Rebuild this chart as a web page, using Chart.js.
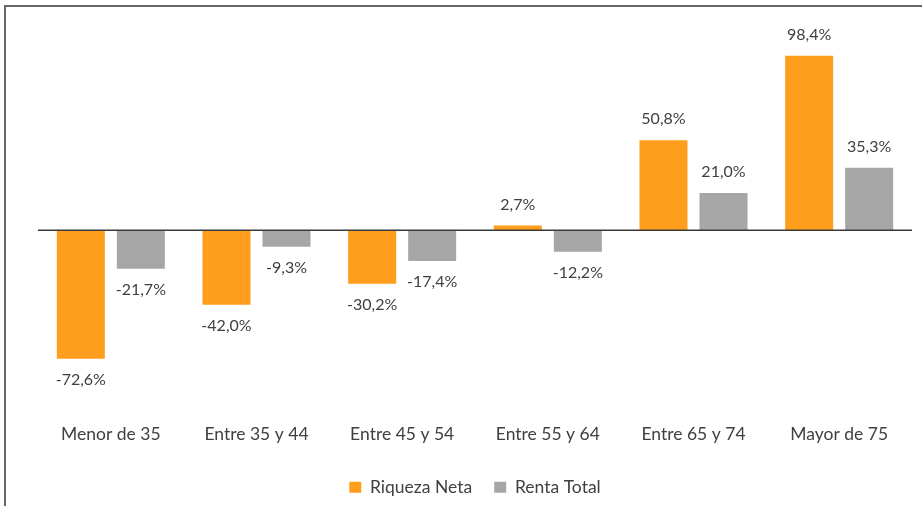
<!DOCTYPE html>
<html>
<head>
<meta charset="utf-8">
<script src="https://cdn.jsdelivr.net/npm/chart.js@4"></script>
<style>
  body { margin: 0; background: #fff; overflow: hidden; }
  #wrap { position: relative; width: 922px; height: 506px; }
  #frame { position: absolute; left: 4px; top: 5px; right: 0; bottom: 0;
           border-top: 2px solid #666; border-left: 2px solid #666; pointer-events: none; }
</style>
</head>
<body>
<div id="wrap">
  <canvas id="mainGraph"></canvas>
  <div id="frame"></div>
</div>
<script>
// grupos de edad
var categories = ['Menor de 35', 'Entre 35 y 44', 'Entre 45 y 54', 'Entre 55 y 64', 'Entre 65 y 74', 'Mayor de 75'];
// variacion en %
var riquezaNeta = [-72.6, -42.0, -30.2, 2.7, 50.8, 98.4];
var rentaTotal = [-21.7, -9.3, -17.4, -12.2, 21.0, 35.3];

var textColor = '#404040';
var fontName = 'Lato';

function fmt(v) {
    return v.toFixed(1).replace('.', ',') + '%';
}

// etiquetas encima / debajo de cada barra
var valueLabels = {
    id: 'valueLabels',
    afterDatasetsDraw: function(chart) {
        var ctx = chart.ctx;
        ctx.save();
        ctx.font = '16px ' + fontName;
        ctx.fillStyle = textColor;
        ctx.textAlign = 'center';
        ctx.textBaseline = 'middle';
        chart.data.datasets.forEach(function(ds, i) {
            chart.getDatasetMeta(i).data.forEach(function(bar, j) {
                var v = ds.data[j];
                var y = v >= 0 ? bar.y - 21 : bar.y + 21;
                ctx.fillText(fmt(v), bar.x, y);
            });
        });
        ctx.restore();
    }
};

// linea del cero
var zeroLine = {
    id: 'zeroLine',
    afterDatasetsDraw: function(chart) {
        var ctx = chart.ctx;
        var y = chart.scales.y.getPixelForValue(0);
        ctx.save();
        ctx.strokeStyle = '#3a3a3a';
        ctx.lineWidth = 1.5;
        ctx.beginPath();
        ctx.moveTo(chart.chartArea.left, y);
        ctx.lineTo(chart.chartArea.right, y);
        ctx.stroke();
        ctx.restore();
    }
};

var ctx = document.getElementById('mainGraph').getContext('2d');

var chart = new Chart(ctx, {
    type: 'bar',
    data: {
        labels: categories,
        datasets: [
            {
                label: 'Riqueza Neta',
                data: riquezaNeta,
                backgroundColor: '#FF9E1C',
                categoryPercentage: 0.824,
                barPercentage: 0.8
            },
            {
                label: 'Renta Total',
                data: rentaTotal,
                backgroundColor: '#A6A6A6',
                categoryPercentage: 0.824,
                barPercentage: 0.8
            }
        ]
    },
    options: {
        responsive: true,
        maintainAspectRatio: false,
        animation: false,
        layout: {
            padding: { top: 53, left: 38, right: 10, bottom: 0 }
        },
        scales: {
            x: {
                grid: { display: false, drawTicks: false },
                border: { display: false },
                ticks: {
                    padding: 9,
                    color: textColor,
                    font: { family: fontName, size: 17.5 }
                },
                afterFit: function(scale) { scale.height = 42; }
            },
            y: {
                display: false,
                min: -104,
                max: 100
            }
        },
        plugins: {
            legend: {
                position: 'bottom',
                labels: {
                    boxWidth: 12,
                    boxHeight: 11,
                    padding: 22,
                    color: textColor,
                    font: { family: fontName, size: 17.5 }
                }
            },
            tooltip: { enabled: false }
        }
    },
    plugins: [zeroLine, valueLabels]
});
</script>
</body>
</html>
